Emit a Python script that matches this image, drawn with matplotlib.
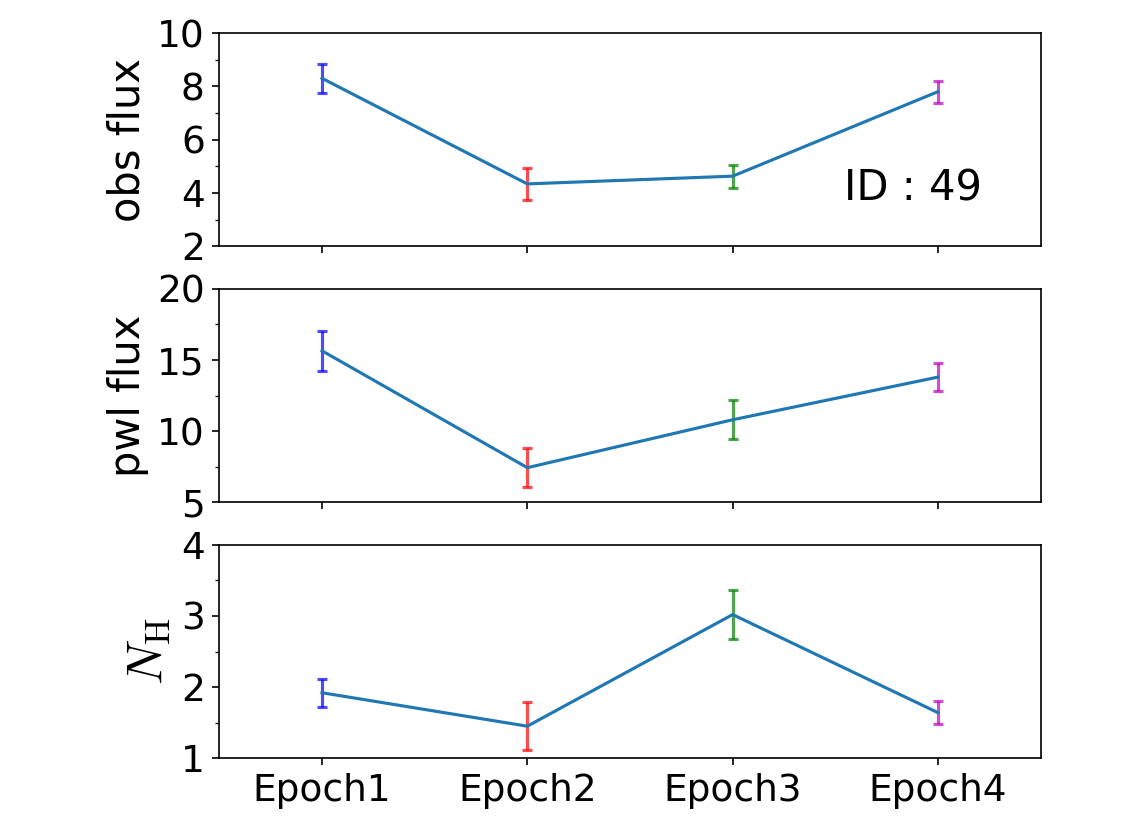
import matplotlib
matplotlib.use("Agg")
import matplotlib.pyplot as plt
from matplotlib.ticker import AutoMinorLocator

plt.rcParams["mathtext.fontset"] = "cm"

epochs = ["Epoch1", "Epoch2", "Epoch3", "Epoch4"]
err_colors = ["blue", "red", "green", "m"]

obs_flux = [8.30, 4.34, 4.63, 7.80]
obs_err = [0.55, 0.60, 0.43, 0.41]

pwl_flux = [15.65, 7.43, 10.80, 13.80]
pwl_err = [1.42, 1.35, 1.38, 0.98]

nh = [1.92, 1.45, 3.02, 1.64]
nh_err = [0.20, 0.34, 0.34, 0.16]

ylabels = ["obs flux", "pwl flux", r"$N_{\rm H}$"]
ylabel_sizes = [20, 20, 24]
ylims = [(2, 10), (5, 20), (1, 4)]
yticks = [[2, 4, 6, 8, 10], [5, 10, 15, 20], [1, 2, 3, 4]]
source_id = 49

fig, axes = plt.subplots(3, 1, figsize=(7.5, 5.5), dpi=150, sharex=True)
fig.subplots_adjust(left=0.195, right=0.925, top=0.96, bottom=0.081, hspace=0.2)

x = list(range(len(epochs)))
series = [(obs_flux, obs_err), (pwl_flux, pwl_err), (nh, nh_err)]
for ax, (vals, errs), lab, ls, yl, yt in zip(axes, series, ylabels, ylabel_sizes, ylims, yticks):
    ax.plot(x, vals, color="C0", lw=1.5, zorder=3)
    for xi, v, e, c in zip(x, vals, errs, err_colors):
        ax.errorbar(xi, v, yerr=e, color=c, alpha=0.7, capsize=2.5,
                    elinewidth=1.5, capthick=1.5, fmt="none", zorder=2)
    ax.set_ylim(*yl)
    ax.set_yticks(yt)
    ax.yaxis.set_minor_locator(AutoMinorLocator(2))
    ax.set_ylabel(lab, fontsize=ls)
    ax.tick_params(axis="both", labelsize=18)
    ax.set_xlim(-0.5, 3.5)

axes[-1].set_xticks(x)
axes[-1].set_xticklabels(epochs)
axes[0].text(0.845, 0.27, f"ID : {source_id}", transform=axes[0].transAxes,
             fontsize=20, ha="center", va="center")

fig.savefig("out.png", dpi=150)
